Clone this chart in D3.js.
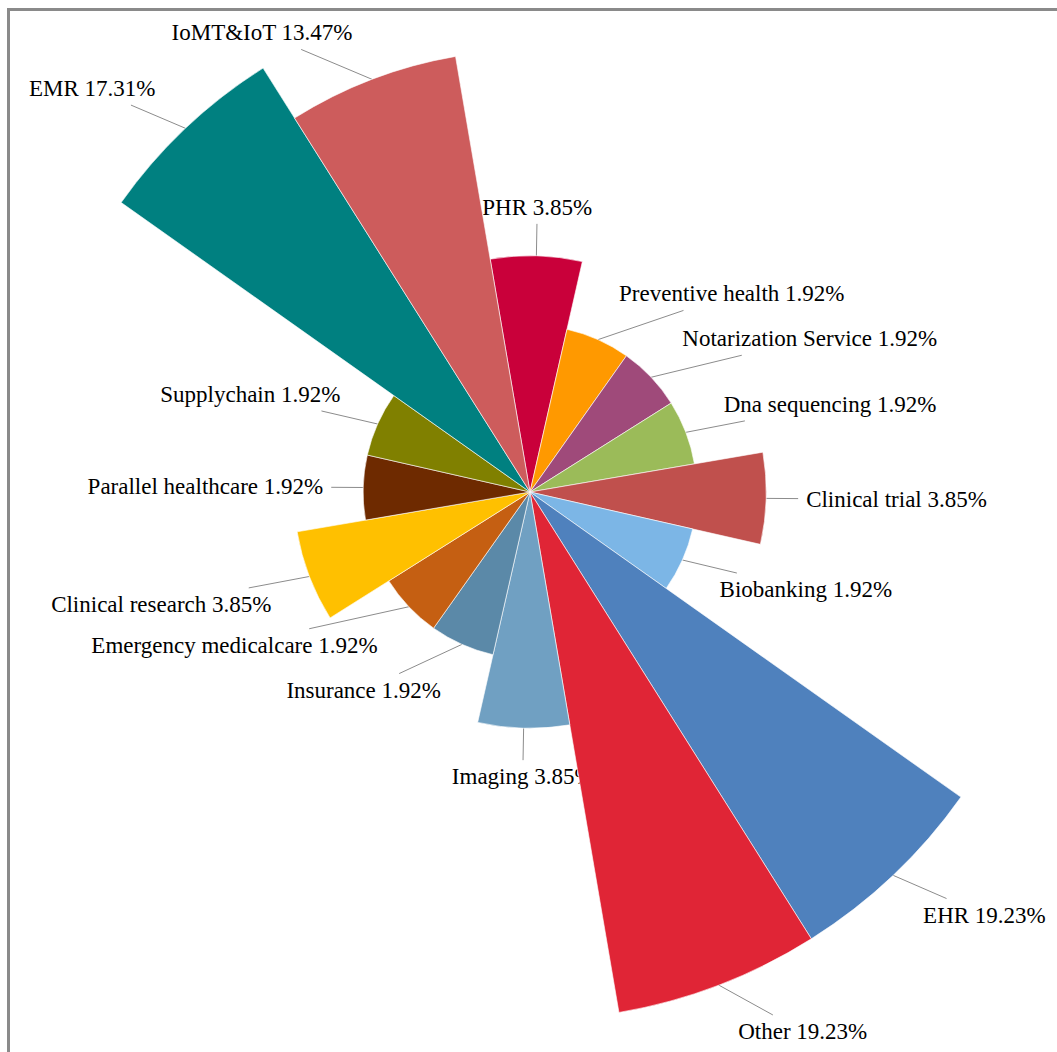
<!DOCTYPE html>
<html>
<head>
<meta charset="utf-8">
<script src="https://cdn.jsdelivr.net/npm/d3@7"></script>
<style>
  html, body { margin: 0; padding: 0; background: #fff; }
  svg { display: block; }
</style>
</head>
<body>
<svg id="chart" width="1057" height="1052"></svg>
<script>
// Application areas, listed clockwise from the top
const categories = [
  "PHR", "Preventive health", "Notarization Service", "Dna sequencing",
  "Clinical trial", "Biobanking", "EHR", "Other", "Imaging", "Insurance",
  "Emergency medicalcare", "Clinical research", "Parallel healthcare",
  "Supplychain", "EMR", "IoMT&IoT"
];
const shares = [
  3.85, 1.92, 1.92, 1.92,
  3.85, 1.92, 19.23, 19.23, 3.85, 1.92,
  1.92, 3.85, 1.92,
  1.92, 17.31, 13.47
];
const colors = [
  "#c9003a", "#ff9900", "#9f4a7a", "#9bbb59",
  "#c0504d", "#7cb6e6", "#4f81bd", "#e02536", "#70a0c2", "#5b89a8",
  "#c55f12", "#ffc000", "#6e2a00",
  "#808000", "#008080", "#cd5c5c"
];

const W = 1057, H = 1052;
const cx = 530, cy = 492;
const maxR = 528;
const startDeg = -9.7;
const fontSize = 23;
const gap = 32;       // distance from sector edge to label box
const padX = 8, padY = 4;

const svg = d3.select("#chart");

// chart frame
svg.append("rect")
  .attr("x", 8.5).attr("y", 9.5)
  .attr("width", W + 40).attr("height", H + 40)
  .attr("fill", "none")
  .attr("stroke", "#8a8a8a")
  .attr("stroke-width", 3);

const data = categories.map((c, i) => ({ name: c, value: shares[i], color: colors[i], i }));

// equal angles, area proportional to share
const step = 2 * Math.PI / data.length;
const start = startDeg * Math.PI / 180;
const angle = d3.scaleLinear().domain([0, data.length]).range([start, start + 2 * Math.PI]);
const r = d3.scaleSqrt().domain([0, d3.max(shares)]).range([0, maxR]);

const g = svg.append("g");
const labelLayer = g.append("g");
const sectorLayer = g.append("g").attr("transform", `translate(${cx},${cy})`);

// labels with leader lines (drawn beneath the sectors)
const thr = Math.sin(15 * Math.PI / 180);
data.forEach(d => {
  const a = angle(d.i) + step / 2;
  const rr = r(d.value);
  const sx = Math.sin(a), sy = -Math.cos(a);
  const A = [cx + rr * sx, cy + rr * sy];
  const P = [cx + (rr + gap) * sx, cy + (rr + gap) * sy];

  const text = labelLayer.append("text")
    .attr("font-family", "'Liberation Serif', 'Times New Roman', serif")
    .attr("font-size", fontSize)
    .attr("fill", "#000")
    .text(`${d.name} ${d.value.toFixed(2)}%`);
  const bb = text.node().getBBox();
  const bw = bb.width + 2 * padX, bh = bb.height + 2 * padY;

  let x0;
  if (Math.abs(sx) < thr) x0 = P[0] - bw / 2;
  else if (sx > 0) x0 = P[0];
  else x0 = P[0] - bw;
  let y0;
  if (Math.abs(sy) < thr) y0 = P[1] - bh / 2;
  else if (sy < 0) y0 = P[1] - bh;
  else y0 = P[1];

  text.attr("x", x0 + padX - bb.x).attr("y", y0 + padY - bb.y);

  // leader line from sector edge toward the label centre, stopping at the box
  const C = [x0 + bw / 2, y0 + bh / 2];
  const dx = C[0] - A[0], dy = C[1] - A[1];
  let t = 0;
  if (Math.abs(dx) > 1e-6) t = Math.max(t, ((dx > 0 ? x0 : x0 + bw) - A[0]) / dx);
  if (Math.abs(dy) > 1e-6) t = Math.max(t, ((dy > 0 ? y0 : y0 + bh) - A[1]) / dy);
  t = Math.min(t, 1);
  labelLayer.append("line")
    .attr("x1", A[0]).attr("y1", A[1])
    .attr("x2", A[0] + t * dx).attr("y2", A[1] + t * dy)
    .attr("stroke", "#8c8c8c")
    .attr("stroke-width", 1);
});

const arc = d3.arc()
  .innerRadius(0)
  .outerRadius(d => r(d.value))
  .startAngle(d => angle(d.i))
  .endAngle(d => angle(d.i + 1));

sectorLayer.selectAll("path")
  .data(data)
  .join("path")
  .attr("d", arc)
  .attr("fill", d => d.color)
  .attr("stroke", "#ffffff")
  .attr("stroke-width", 0.6)
  .attr("stroke-linejoin", "round");
</script>
</body>
</html>
